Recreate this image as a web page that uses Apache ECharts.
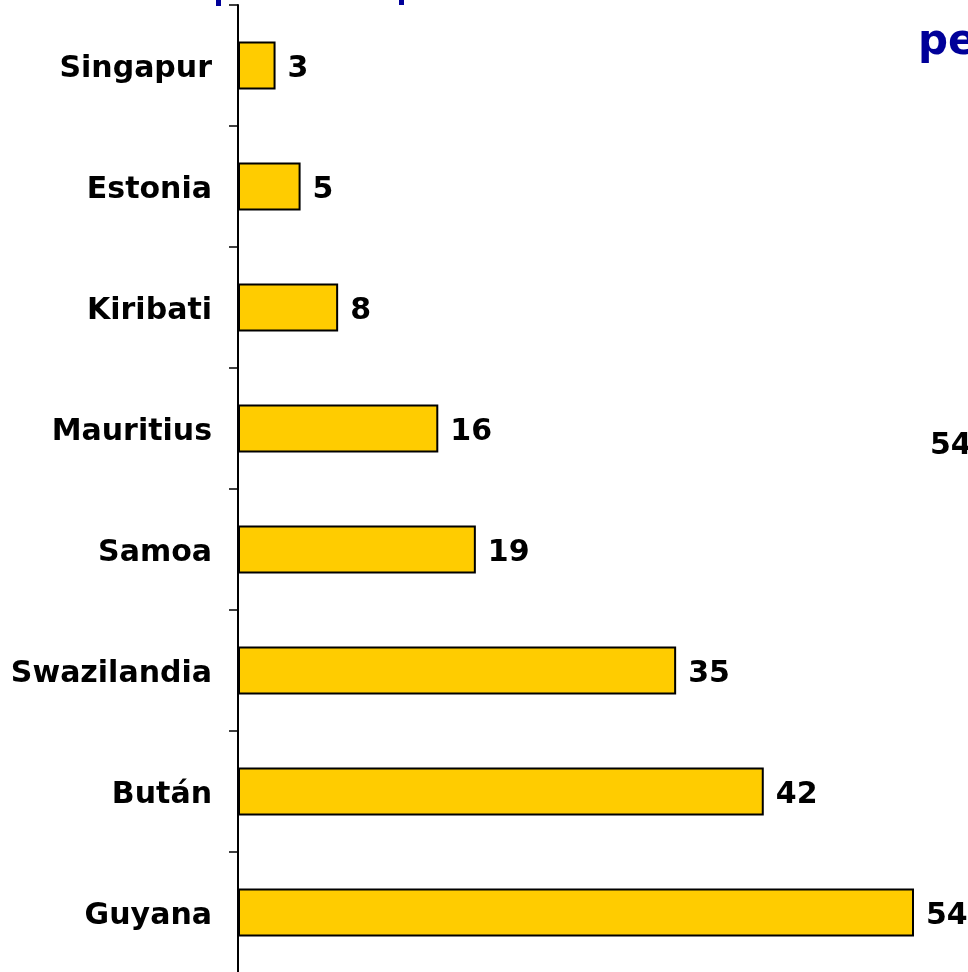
<!DOCTYPE html>
<html>
<head>
<meta charset="utf-8">
<script src="https://cdn.jsdelivr.net/npm/echarts@6/dist/echarts.min.js"></script>
<style>
  html, body { margin: 0; padding: 0; background: #fff; }
  #main { width: 968px; height: 972px; }
</style>
</head>
<body>
<div id="main"></div>
<script>
var countries = ['Singapur', 'Estonia', 'Kiribati', 'Mauritius', 'Samoa', 'Swazilandia', 'Bután', 'Guyana'];
var values = [3, 5, 8, 16, 19, 35, 42, 54];

var myChart = echarts.init(document.getElementById('main'));
var font = 'DejaVu Sans';

var option = {
    animation: false,
    backgroundColor: '#fff',
    grid: {
        left: 238,
        top: 5,
        width: 676,
        height: 968,
        outerBoundsMode: 'none'
    },
    xAxis: {
        type: 'value',
        min: 0,
        max: 54,
        show: false
    },
    yAxis: {
        type: 'category',
        data: countries,
        inverse: true,
        axisLine: { lineStyle: { color: '#000', width: 2 } },
        axisTick: { show: true, length: 9, lineStyle: { color: '#000', width: 1.5 } },
        axisLabel: {
            margin: 26,
            color: '#000',
            fontFamily: font,
            fontWeight: 'bold',
            fontSize: 30,
            verticalAlign: 'top',
            lineHeight: 8
        }
    },
    series: [{
        type: 'bar',
        data: values,
        barWidth: 48,
        itemStyle: { color: '#FFCC00', borderColor: '#000', borderWidth: 2 },
        label: {
            show: true,
            position: 'right',
            distance: 12,
            color: '#000',
            fontFamily: font,
            fontWeight: 'bold',
            fontSize: 30,
            verticalAlign: 'top',
            lineHeight: 8
        }
    }],
    // fragments of neighbouring slide content cut off by the crop
    graphic: [
        { type: 'rect', left: 216, top: 0, shape: { width: 5, height: 6 }, style: { fill: '#000099' } },
        { type: 'rect', left: 399, top: 0, shape: { width: 5, height: 5 }, style: { fill: '#000099' } },
        { type: 'text', left: 918, top: 22, style: { text: 'pe', fill: '#000099', font: 'bold 42px "DejaVu Sans"' } },
        { type: 'text', left: 930, top: 431, style: { text: '54', fill: '#000', font: 'bold 30px "DejaVu Sans"' } }
    ]
};

myChart.setOption(option);
</script>
</body>
</html>
